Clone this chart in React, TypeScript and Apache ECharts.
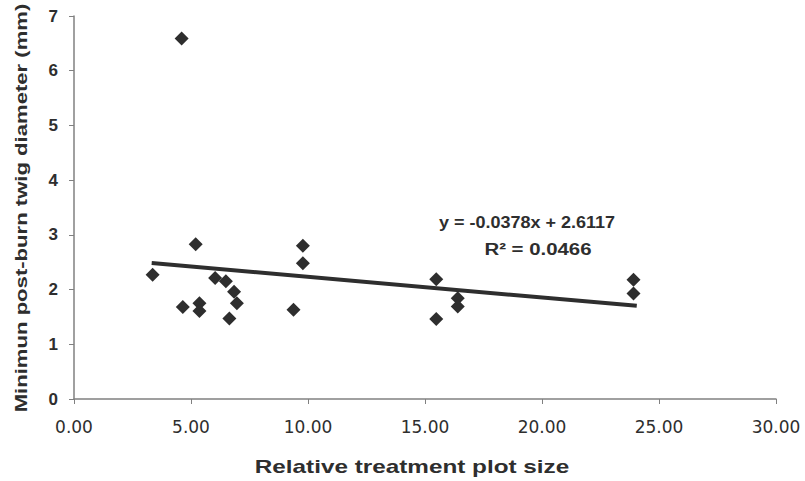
import React, { useEffect, useRef } from "react";
import * as echarts from "echarts";

const plotSize: number[] = [
  3.36, 4.6, 4.65, 5.2, 5.36, 5.36, 6.03, 6.49, 6.64, 6.84, 6.96, 9.38, 9.78, 9.78, 15.48, 15.48, 16.4, 16.4, 23.91, 23.91,
];
const twigDiameter: number[] = [
  2.27, 6.59, 1.68, 2.83, 1.75, 1.61, 2.21, 2.15, 1.47, 1.96, 1.75, 1.63, 2.8, 2.48, 2.19, 1.46, 1.84, 1.69, 2.18, 1.93,
];
const trendSlope = -0.0378;
const trendIntercept = 2.6117;
const trendX: number[] = [3.32, 24.05];
const xTicks: string[] = ["0.00", "5.00", "10.00", "15.00", "20.00", "25.00", "30.00"];
const equationText = "y = -0.0378x + 2.6117";
const r2Text = "R² = 0.0466";
const xTitle = "Relative treatment plot size";
const yTitle = "Minimun post-burn twig diameter (mm)";

const FONT = "'Liberation Sans', Arial, sans-serif";
const DARK = "#2e2e2e";

export default function App() {
  const ref = useRef<HTMLDivElement>(null);
  useEffect(() => {
    if (!ref.current) return;
    const chart = echarts.init(ref.current, undefined, { renderer: "svg" });
    const points = plotSize.map((x, i) => [x, twigDiameter[i]]);
    const trend = trendX.map((x) => [x, trendIntercept + trendSlope * x]);
    chart.setOption({
      animation: false,
      backgroundColor: "#ffffff",
      grid: { left: 74, right: 29, top: 16, bottom: 82, containLabel: false },
      xAxis: {
        type: "value",
        min: 0,
        max: 30,
        interval: 5,
        axisLine: { show: true, lineStyle: { color: "#808080", width: 1.5 } },
        axisTick: { show: true, length: 5, lineStyle: { color: "#808080" } },
        splitLine: { show: false },
        axisLabel: {
          fontFamily: "'DejaVu Sans', sans-serif",
          fontSize: 17,
          color: DARK,
          margin: 19,
          formatter: (v: number) => xTicks[Math.round(v / 5)] ?? "",
        },
      },
      yAxis: {
        type: "value",
        min: 0,
        max: 7,
        interval: 1,
        axisLine: { show: true, lineStyle: { color: "#808080", width: 1.5 } },
        axisTick: { show: true, length: 5, lineStyle: { color: "#808080" } },
        splitLine: { show: false },
        axisLabel: { fontFamily: FONT, fontSize: 17, fontWeight: "bold", color: DARK, margin: 16 },
      },
      series: [
        {
          type: "line",
          data: trend,
          symbol: "none",
          lineStyle: { color: DARK, width: 4 },
          z: 2,
        },
        {
          type: "scatter",
          data: points,
          symbol: "diamond",
          symbolSize: 14,
          itemStyle: { color: DARK, opacity: 1 },
          z: 3,
        },
      ],
      graphic: [
        {
          type: "text",
          x: 527,
          y: 222,
          scaleX: 1.06,
          style: {
            text: equationText,
            fontFamily: FONT,
            fontSize: 17,
            fontWeight: "bold",
            fill: DARK,
            align: "center",
            verticalAlign: "middle",
          },
        },
        {
          type: "text",
          x: 538,
          y: 249,
          scaleX: 1.2,
          style: {
            text: r2Text,
            fontFamily: FONT,
            fontSize: 17,
            fontWeight: "bold",
            fill: DARK,
            align: "center",
            verticalAlign: "middle",
          },
        },
        {
          type: "text",
          x: 412,
          y: 467,
          scaleX: 1.35,
          style: {
            text: xTitle,
            fontFamily: FONT,
            fontSize: 18,
            fontWeight: "bold",
            fill: DARK,
            align: "center",
            verticalAlign: "middle",
          },
        },
        {
          type: "text",
          x: 21,
          y: 208,
          rotation: Math.PI / 2,
          scaleX: 1.3,
          style: {
            text: yTitle,
            fontFamily: FONT,
            fontSize: 17,
            fontWeight: "bold",
            fill: DARK,
            align: "center",
            verticalAlign: "middle",
          },
        },
      ],
    });
    return () => chart.dispose();
  }, []);
  return <div ref={ref} style={{ width: 805, height: 481, position: "absolute", left: 0, top: 0 }} />;
}
